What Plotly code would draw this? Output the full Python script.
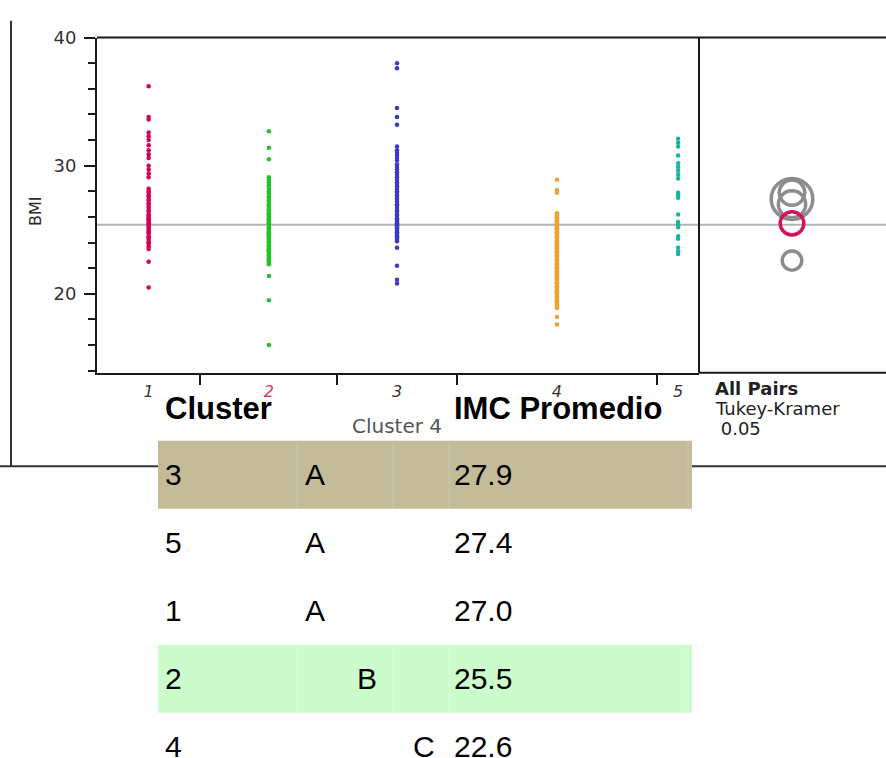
import plotly.graph_objects as go

W, H = 886, 758

# ---- one-way data: BMI by cluster -------------------------------------------
cluster_names = ["1", "2", "3", "4", "5"]
cluster_sizes = [52, 69, 60, 101, 21]
cluster_colors = ["#d5005c", "#22c322", "#3a3ac4", "#f2a12c", "#18b79b"]

bmi_1 = [36.2, 33.8, 33.6, 32.6, 32.3, 32.0, 31.6, 31.2, 30.9, 30.6, 30.0,
         29.7, 29.4, 29.1, 28.2, 28.0, 27.9, 27.7, 27.6, 27.4, 27.3, 27.1,
         27.0, 26.8, 26.7, 26.5, 26.4, 26.2, 26.1, 25.9, 25.8, 25.7, 25.5,
         25.4, 25.3, 25.2, 25.0, 24.9, 24.8, 24.7, 24.5, 24.4, 24.3, 24.1,
         24.0, 23.9, 23.7, 23.5, 22.5, 20.5, 25.6, 26.0]
bmi_2 = [32.7, 31.4, 30.5, 29.1, 28.9, 28.7, 28.4, 28.2, 28.0, 27.8, 27.6,
         27.5, 27.3, 27.2, 27.0, 26.9, 26.8, 26.6, 26.5, 26.4, 26.3, 26.1,
         26.0, 25.9, 25.8, 25.7, 25.6, 25.5, 25.4, 25.3, 25.2, 25.1, 25.0,
         24.9, 24.8, 24.7, 24.6, 24.5, 24.4, 24.3, 24.2, 24.1, 24.0, 23.9,
         23.8, 23.7, 23.6, 23.5, 23.4, 23.3, 23.2, 23.1, 23.0, 22.9, 22.8,
         22.7, 22.6, 22.5, 22.4, 22.3, 27.9, 26.2, 25.55, 24.65, 23.45, 28.5,
         21.4, 19.5, 16.0]
bmi_3 = [38.0, 37.6, 34.5, 33.8, 33.2, 31.5, 31.2, 31.0, 30.8, 30.6, 30.4,
         30.1, 29.9, 29.7, 29.5, 29.3, 29.1, 28.9, 28.7, 28.6, 28.4, 28.2,
         28.0, 27.9, 27.7, 27.5, 27.4, 27.2, 27.0, 26.9, 26.7, 26.5, 26.4,
         26.2, 26.1, 25.9, 25.8, 25.7, 25.6, 25.5, 25.4, 25.3, 25.2, 25.1,
         25.0, 24.9, 24.8, 24.7, 24.6, 24.5, 24.4, 24.3, 24.2, 24.1, 25.45,
         25.35, 23.6, 22.2, 21.1, 20.8]
bmi_4 = [28.9, 28.1, 27.9, 26.3, 26.2, 26.1, 26.0, 25.9, 25.8, 25.7, 25.6,
         25.5, 25.4, 25.3, 25.2, 25.1, 25.0, 24.9, 24.8, 24.7, 24.6, 24.5,
         24.4, 24.3, 24.2, 24.1, 24.0, 23.9, 23.8, 23.7, 23.6, 23.5, 23.4,
         23.3, 23.2, 23.1, 23.0, 22.9, 22.8, 22.7, 22.6, 22.5, 22.4, 22.3,
         22.2, 22.1, 22.0, 21.9, 21.8, 21.7, 21.6, 21.5, 21.4, 21.3, 21.2,
         21.1, 21.0, 20.9, 20.8, 20.7, 20.6, 20.5, 20.4, 20.3, 20.2, 20.1,
         20.0, 19.9, 19.8, 19.7, 19.6, 19.5, 19.4, 19.3, 19.2, 19.1, 19.0,
         18.9, 25.95, 25.65, 25.35, 25.05, 24.75, 24.45, 24.15, 23.85, 23.55,
         23.25, 22.95, 22.65, 22.35, 22.05, 21.75, 21.45, 21.15, 20.85, 20.55,
         20.25, 19.95, 18.2, 17.6]
bmi_5 = [32.1, 31.8, 31.5, 30.8, 30.2, 29.9, 29.6, 29.3, 29.0, 27.9, 27.7,
         27.5, 26.2, 25.6, 25.4, 25.2, 24.5, 24.3, 23.6, 23.3, 23.1]
bmi_values = [bmi_1, bmi_2, bmi_3, bmi_4, bmi_5]

y_ticks = [20, 30, 40]

# ---- Tukey-Kramer connecting-letters report ---------------------------------
table_header = ["Cluster", "IMC Promedio"]
table_cluster = ["3", "5", "1", "2", "4"]
table_letter_a = ["A", "A", "A", "", ""]
table_letter_b = ["", "", "", "B", ""]
table_letter_c = ["", "", "", "", "C"]
table_mean = [27.9, 27.4, 27.0, 25.5, 22.6]
table_fill = ["#c4bc98", "#ffffff", "#ffffff", "#ccfccc", "#ffffff"]
table_divider = ["#cfc8a8", None, None, "#dcfddc", None]

# comparison-circle radii (BMI units) per cluster 1..5
circle_radius = [1.05, 0.91, 0.98, 0.75, 1.6]
selected_cluster = "2"
report_lines = ["<b>All Pairs</b>", "Tukey-Kramer", " 0.05"]


def px(x):
    return x / W


def py(y):
    return 1 - y / H


# pixel layout of the report
plot_l, plot_r, plot_t, plot_b = 97, 699, 27, 367
y_lo, y_hi = 40 - (plot_b - plot_t) / 13.0, 40
circ_x_px = 792

# x scale proportional to group sizes: boundaries and centres
bounds = [0]
for n in cluster_sizes:
    bounds.append(bounds[-1] + n)
centers = [(bounds[i] + bounds[i + 1]) / 2 for i in range(len(cluster_sizes))]
mean_by_cluster = dict(zip(table_cluster, table_mean))
grand_mean = sum(mean_by_cluster[c] * n for c, n in zip(cluster_names, cluster_sizes)) / sum(cluster_sizes)

fig = go.Figure()

for name, c, vals, col in zip(cluster_names, centers, bmi_values, cluster_colors):
    fig.add_trace(go.Scatter(
        x=[c] * len(vals), y=vals, mode="markers", name=name,
        marker=dict(size=4.5, color=col, line=dict(width=0)),
        showlegend=False, hoverinfo="y"))

tick_text = []
for name in cluster_names:
    col = "#e0306a" if name == selected_cluster else "#333333"
    tick_text.append(f"<span style='color:{col}'><i>{name}</i></span>")

shapes = []
black = "#1a1a1a"
# outer report frame
shapes.append(dict(type="line", xref="paper", yref="paper", x0=px(11), x1=px(11),
                   y0=py(10), y1=py(462), line=dict(color="#333333", width=2)))
shapes.append(dict(type="line", xref="paper", yref="paper", x0=0, x1=1,
                   y0=py(462), y1=py(462), line=dict(color="#333333", width=2)))
# plot frame around both panels
shapes.append(dict(type="line", xref="paper", yref="paper", x0=px(plot_l), x1=1,
                   y0=py(plot_t), y1=py(plot_t), line=dict(color=black, width=2)))
shapes.append(dict(type="line", xref="paper", yref="paper", x0=px(plot_r), x1=1,
                   y0=py(plot_b), y1=py(plot_b), line=dict(color=black, width=2)))
shapes.append(dict(type="line", xref="paper", yref="paper", x0=px(plot_r), x1=px(plot_r),
                   y0=py(plot_t), y1=py(plot_b), line=dict(color=black, width=2)))
# grand mean line
shapes.append(dict(type="line", xref="paper", yref="y", x0=px(plot_l), x1=1,
                   y0=grand_mean, y1=grand_mean, layer="below",
                   line=dict(color="#b4b4b4", width=2)))

# comparison circles
cx = (circ_x_px - plot_r) / 13.0
order = [i for i, n in enumerate(cluster_names) if n != selected_cluster] + \
        [i for i, n in enumerate(cluster_names) if n == selected_cluster]
for i in order:
    m = mean_by_cluster[cluster_names[i]]
    r = circle_radius[i]
    col = "#d4145a" if cluster_names[i] == selected_cluster else "#8c8c8c"
    shapes.append(dict(type="circle", xref="x2", yref="y",
                       x0=cx - r, x1=cx + r, y0=m - r, y1=m + r,
                       line=dict(color=col, width=3.5)))

# table rows
tab_l, tab_r = 158, 692
row_top0, row_h = 436, 69
div_x = [297, 393, 449, 688]
for k, fill in enumerate(table_fill):
    t = row_top0 + k * row_h
    if fill != "#ffffff":
        shapes.append(dict(type="rect", xref="paper", yref="paper",
                           x0=px(tab_l), x1=px(tab_r), y0=py(t), y1=py(t + row_h),
                           fillcolor=fill, line=dict(width=0)))
        for dx in div_x:
            shapes.append(dict(type="line", xref="paper", yref="paper",
                               x0=px(dx), x1=px(dx), y0=py(t), y1=py(t + row_h),
                               line=dict(color=table_divider[k], width=1)))

annotations = []
tfont = dict(family="Liberation Sans, Arial, sans-serif", size=30, color="#000000")
hfont = dict(family="Liberation Sans, Arial, sans-serif", size=31, color="#000000")
col_x = [163, 303, 355, 411, 452]
header_y = 403
annotations.append(dict(x=px(col_x[0]), y=py(header_y), xref="paper", yref="paper",
                        text=f"<b>{table_header[0]}</b>", showarrow=False,
                        xanchor="left", yanchor="middle", font=hfont))
annotations.append(dict(x=px(col_x[4]), y=py(header_y), xref="paper", yref="paper",
                        text=f"<b>{table_header[1]}</b>", showarrow=False,
                        xanchor="left", yanchor="middle", font=hfont))
for k in range(len(table_cluster)):
    cy = row_top0 + k * row_h + row_h / 2
    cells = [table_cluster[k], table_letter_a[k], table_letter_b[k],
             table_letter_c[k], f"{table_mean[k]:.1f}"]
    for xx, txt in zip(col_x, cells):
        if txt:
            annotations.append(dict(x=px(xx), y=py(cy), xref="paper", yref="paper",
                                    text=txt, showarrow=False, xanchor="left",
                                    yanchor="middle", font=tfont))

# axis titles and report caption
jfont = "DejaVu Sans, sans-serif"
annotations.append(dict(x=px(35), y=py(203), xref="paper", yref="paper", text="BMI",
                        textangle=-90, showarrow=False, xanchor="center", yanchor="middle",
                        font=dict(family=jfont, size=16, color="#2a2a2a")))
annotations.append(dict(x=px(397), y=py(421), xref="paper", yref="paper", text="Cluster 4",
                        showarrow=False, xanchor="center", yanchor="middle",
                        font=dict(family=jfont, size=20, color="#555555")))
for j, (line, yy) in enumerate(zip(report_lines, [383, 403, 424])):
    annotations.append(dict(x=px(713), y=py(yy), xref="paper", yref="paper", text=line,
                            showarrow=False, xanchor="left", yanchor="middle",
                            font=dict(family=jfont, size=18, color="#222222")))

fig.update_layout(
    width=W, height=H, margin=dict(l=0, r=0, t=0, b=0),
    paper_bgcolor="white", plot_bgcolor="rgba(0,0,0,0)",
    shapes=shapes, annotations=annotations,
    xaxis=dict(domain=[px(plot_l), px(plot_r)], range=[0, bounds[-1]],
               tickmode="array", tickvals=centers, ticktext=tick_text,
               ticks="outside", ticklen=3, tickcolor="rgba(0,0,0,0)",
               tickfont=dict(family=jfont, size=16, color="#333333"),
               showline=True, linecolor=black, linewidth=2, showgrid=False,
               zeroline=False, anchor="y",
               minor=dict(tickmode="array", tickvals=bounds[1:-1], ticks="outside",
                          ticklen=10, tickwidth=2, tickcolor=black, showgrid=False)),
    yaxis=dict(domain=[py(plot_b), py(plot_t)], range=[y_lo, y_hi],
               tickmode="array", tickvals=y_ticks, ticks="outside", ticklen=11,
               tickwidth=2, tickcolor=black, ticklabelstandoff=4,
               tickfont=dict(family=jfont, size=18, color="#333333"),
               showline=True, linecolor=black, linewidth=2, showgrid=False,
               zeroline=False,
               minor=dict(dtick=2, ticks="outside", ticklen=7, tickwidth=1.5,
                          tickcolor=black, showgrid=False)),
    xaxis2=dict(domain=[px(plot_r), 1], range=[0, (W - plot_r) / 13.0],
                anchor="y", visible=False, showgrid=False, zeroline=False),
)

fig.write_html("out.html")
